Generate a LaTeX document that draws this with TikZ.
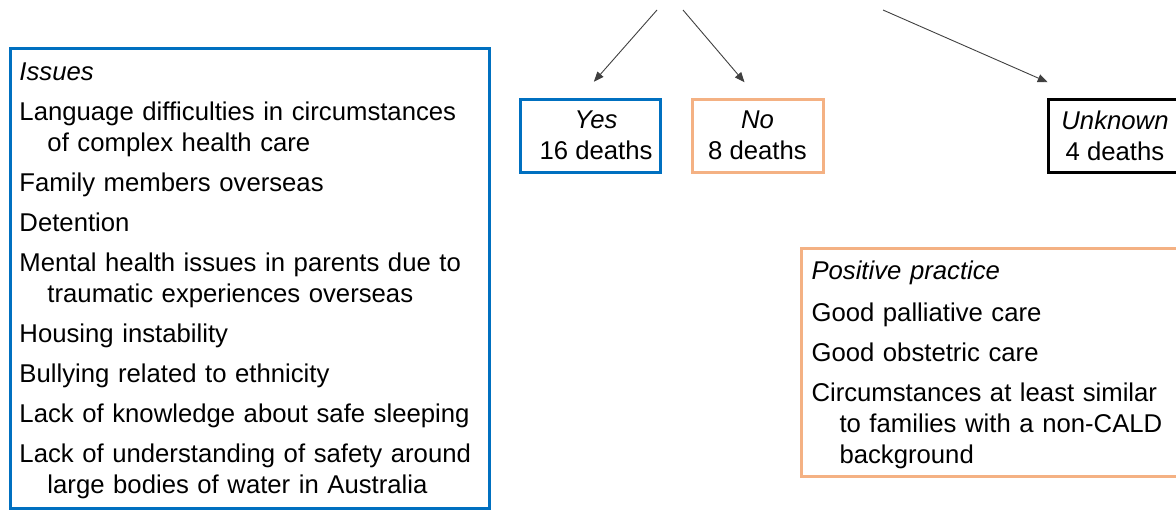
\documentclass[tikz,border=0pt]{standalone}
\usepackage{fontspec}
\setmainfont{Liberation Sans}
\usetikzlibrary{arrows.meta}
\definecolor{pblue}{HTML}{0070C0}
\definecolor{porange}{HTML}{F4B183}
\definecolor{arrowgray}{HTML}{404040}
\begin{document}
\begin{tikzpicture}[x=1pt,y=-1pt,
  txt/.style={font=\fontsize{25.7pt}{31pt}\selectfont},
  listbox/.style={txt, draw, line width=3pt, rectangle, align=left, inner xsep=9.5pt, inner ysep=0pt, anchor=north west},
  deathbox/.style={txt, draw, line width=3pt, rectangle, align=center, inner sep=0pt, anchor=north west, minimum height=73pt},
  link/.style={draw=arrowgray, line width=0.9pt, -{Triangle[length=10pt,width=8pt]}}
]
\useasboundingbox (0,0) rectangle (1176,509);
\clip (0,0) rectangle (1176,509);

% Issues box
\node[listbox, draw=pblue, text width=460pt, minimum width=479pt, minimum height=460pt] (issues) at (8.5,46.5) {%
\rule{0pt}{24pt}\textit{Issues}\\[9pt]
\mbox{Language difficulties in circumstances}\\
\hspace*{28pt}of complex health care\\[9pt]
Family members overseas\\[9pt]
Detention\\[9pt]
\mbox{Mental health issues in parents due to}\\
\hspace*{28pt}traumatic experiences overseas\\[9pt]
Housing instability\\[9pt]
Bullying related to ethnicity\\[9pt]
\mbox{Lack of knowledge about safe sleeping}\\[9pt]
\mbox{Lack of understanding of safety around}\\
\hspace*{28pt}\mbox{large bodies of water in Australia}};

% Outcome boxes
\node[deathbox, draw=pblue, minimum width=140pt] (yes) at (518.5,97.5) {\hspace*{12pt}\textit{Yes}\\\hspace*{12pt}16 deaths};
\node[deathbox, draw=porange, minimum width=131pt] (no) at (690.5,97.5) {\textit{No}\\8 deaths};
\node[deathbox, draw=black, minimum width=134pt] (unk) at (1046.5,97.5) {\textit{Unknown}\\4 deaths};

% Positive practice box
\node[listbox, draw=porange, inner xsep=10.5pt, text width=379pt, minimum width=400pt, minimum height=228pt] (pos) at (799.5,246.5) {%
\rule{0pt}{25pt}\textit{Positive practice}\\[11pt]
Good palliative care\\[9pt]
Good obstetric care\\[9pt]
\mbox{Circumstances at least similar}\\
\hspace*{28pt}\mbox{to families with a non-CALD}\\
\hspace*{28pt}background};

% Arrows from the (off-picture) parent
\coordinate (s1) at (657,10);
\coordinate (s2) at (683,10);
\coordinate (s3) at (883,10);
\draw[link, shorten >=21pt] (s1) -- ([xshift=-10pt]yes.north);
\draw[link, shorten >=20pt] (s2) -- (no.north);
\draw[link, shorten >=38pt] (s3) -- ([xshift=-32.5pt]unk.north);
\end{tikzpicture}
\end{document}
